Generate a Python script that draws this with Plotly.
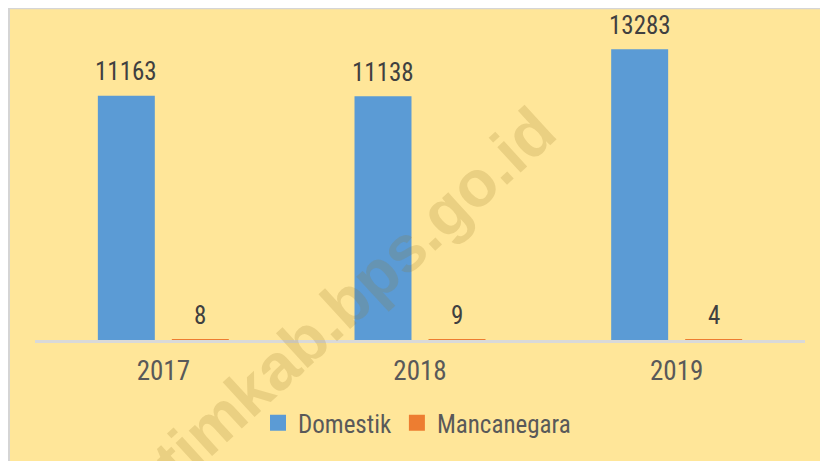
import plotly.graph_objects as go

# ---- data ----
years = ["2017", "2018", "2019"]
domestik = [11163, 11138, 13283]
mancanegara = [8, 9, 4]
series_names = ["Domestik", "Mancanegara"]
watermark_text = "kotimkab.bps.go.id"

# ---- geometry / style ----
# page body has an 8px margin, so the figure is 8px smaller and all pixel
# positions below are given in page pixels and converted with OFF
OFF = 8
W, H = 828 - OFF, 461 - OFF
ML, MR, MT, MB = 35 - OFF, 23, 20 - OFF, 121
plot_w = W - ML - MR
plot_h = H - MT - MB
ymax = 14620
bargap = 0.4234
bargroupgap = 0.23
cat_w = plot_w / len(years)
slot = (1 - bargap) * cat_w / 2
offsets = [-slot / 2, slot / 2]

FONT = "Liberation Sans Narrow, Arial Narrow, Roboto Condensed, Liberation Sans, sans-serif"
BLUE = "#5B9BD5"
ORANGE = "#ED7D31"
YELLOW = "#FFE699"


def px_to_paper_x(px):  # page px -> paper
    return (px - OFF - ML) / plot_w


def px_to_paper_y(py):  # page px -> paper
    return (H - MB - (py - OFF)) / plot_h


fig = go.Figure()
for name, vals, col in zip(series_names, [domestik, mancanegara], [BLUE, ORANGE]):
    fig.add_trace(go.Bar(x=years, y=vals, name=name, marker=dict(color=col, line=dict(width=0)),
                         hoverinfo="x+y+name", showlegend=False))
    # legend entry with a larger square swatch
    fig.add_trace(go.Scatter(x=[None], y=[None], mode="markers", name=name,
                             marker=dict(symbol="square", size=16, color=col), hoverinfo="skip"))

annotations = []
for vals, off in zip([domestik, mancanegara], offsets):
    for i, v in enumerate(vals):
        annotations.append(dict(x=i, y=v, xref="x", yref="y", text=str(v), showarrow=False,
                                xanchor="center", yanchor="middle", xshift=off, yshift=24,
                                font=dict(family=FONT, size=25, color="#404040")))

annotations.append(dict(x=px_to_paper_x(326), y=px_to_paper_y(320), xref="paper", yref="paper",
                        text="<b>" + watermark_text + "</b>", showarrow=False, textangle=-42.6,
                        xanchor="center", yanchor="middle",
                        font=dict(family="Liberation Sans, Arial, sans-serif", size=65,
                                  color="rgba(150,120,40,0.2)")))

fig.update_layout(
    width=W, height=H,
    margin=dict(l=ML, r=MR, t=MT, b=MB, pad=0),
    paper_bgcolor=YELLOW,
    plot_bgcolor="rgba(0,0,0,0)",
    barmode="group", bargap=bargap, bargroupgap=bargroupgap,
    showlegend=True,
    legend=dict(orientation="h", x=px_to_paper_x(417), xanchor="center", y=px_to_paper_y(423),
                yanchor="middle", font=dict(family=FONT, size=25, color="#595959"),
                bgcolor="rgba(0,0,0,0)", itemclick=False, itemdoubleclick=False),
    xaxis=dict(type="category", range=[-0.5, len(years) - 0.5], showgrid=False, showline=True,
               linecolor="#D9D9D9", linewidth=2.5, ticks="",
               tickfont=dict(family=FONT, size=27, color="#595959"), ticklabelstandoff=5,
               fixedrange=True),
    yaxis=dict(range=[0, ymax], visible=False, showgrid=False, zeroline=False, fixedrange=True),
    annotations=annotations,
    shapes=[dict(type="line", xref="paper", yref="paper", layer="below",
                 x0=px_to_paper_x(9), x1=px_to_paper_x(9), y0=px_to_paper_y(470), y1=px_to_paper_y(8),
                 line=dict(color="#D5D5D5", width=2)),
            dict(type="line", xref="paper", yref="paper", layer="below",
                 x0=px_to_paper_x(8), x1=px_to_paper_x(840), y0=px_to_paper_y(8.5), y1=px_to_paper_y(8.5),
                 line=dict(color="#D5D5D5", width=1.5))],
)

fig.write_html("out.html")
